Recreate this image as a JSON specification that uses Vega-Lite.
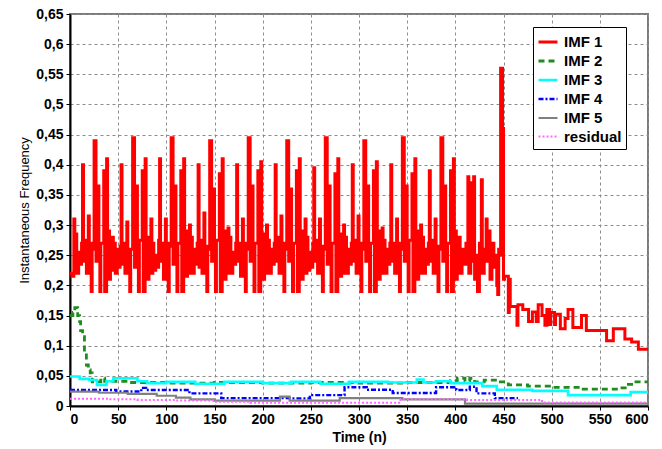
{
"$schema": "https://vega.github.io/schema/vega-lite/v6.json",
"width": 578, "height": 392,
"autosize": {"type": "none"},
"padding": {"left": 70, "top": 14, "right": 14, "bottom": 43},
"background": "white",
"config": {
  "font": "Liberation Sans",
  "view": {"stroke": "#7a7a7a", "strokeWidth": 2},
  "axis": {"labelFont": "Liberation Sans", "labelFontWeight": "bold", "labelFontSize": 14, "labelColor": "#000", "domainColor": "#000", "domainWidth": 2, "tickColor": "#000", "tickSize": 4, "gridColor": "#8c8c8c", "gridDash": [3, 3], "gridWidth": 1, "titleColor": "#000", "titleFont": "Liberation Sans"}
},
"data": {"values": [
{"s":"IMF 1","t":0,"v":0.22},{"s":"IMF 1","t":2,"v":0.215},{"s":"IMF 1","t":4,"v":0.31},{"s":"IMF 1","t":5,"v":0.22},{"s":"IMF 1","t":6,"v":0.285},{"s":"IMF 1","t":7,"v":0.22},{"s":"IMF 1","t":9,"v":0.255},{"s":"IMF 1","t":10,"v":0.235},{"s":"IMF 1","t":12,"v":0.27},{"s":"IMF 1","t":13,"v":0.40},{"s":"IMF 1","t":14,"v":0.24},{"s":"IMF 1","t":16,"v":0.275},{"s":"IMF 1","t":17,"v":0.22},{"s":"IMF 1","t":19,"v":0.315},{"s":"IMF 1","t":20,"v":0.27},{"s":"IMF 1","t":22,"v":0.19},{"s":"IMF 1","t":23,"v":0.26},{"s":"IMF 1","t":25,"v":0.44},{"s":"IMF 1","t":27,"v":0.24},{"s":"IMF 1","t":29,"v":0.365},{"s":"IMF 1","t":30,"v":0.25},{"s":"IMF 1","t":31,"v":0.19},{"s":"IMF 1","t":32,"v":0.27},{"s":"IMF 1","t":35,"v":0.39},{"s":"IMF 1","t":36,"v":0.19},{"s":"IMF 1","t":38,"v":0.41},{"s":"IMF 1","t":39,"v":0.24},
{"s":"IMF 1","t":40,"v":0.29},{"s":"IMF 1","t":41,"v":0.21},{"s":"IMF 1","t":42,"v":0.23},{"s":"IMF 1","t":44,"v":0.28},{"s":"IMF 1","t":45,"v":0.225},{"s":"IMF 1","t":46,"v":0.27},{"s":"IMF 1","t":47,"v":0.22},{"s":"IMF 1","t":49,"v":0.26},{"s":"IMF 1","t":50,"v":0.23},{"s":"IMF 1","t":52,"v":0.265},{"s":"IMF 1","t":53,"v":0.40},{"s":"IMF 1","t":54,"v":0.235},{"s":"IMF 1","t":56,"v":0.27},{"s":"IMF 1","t":57,"v":0.22},{"s":"IMF 1","t":59,"v":0.305},{"s":"IMF 1","t":60,"v":0.26},{"s":"IMF 1","t":62,"v":0.19},{"s":"IMF 1","t":63,"v":0.26},{"s":"IMF 1","t":65,"v":0.445},{"s":"IMF 1","t":67,"v":0.23},{"s":"IMF 1","t":69,"v":0.365},{"s":"IMF 1","t":70,"v":0.24},{"s":"IMF 1","t":71,"v":0.19},{"s":"IMF 1","t":72,"v":0.275},{"s":"IMF 1","t":75,"v":0.39},{"s":"IMF 1","t":76,"v":0.19},{"s":"IMF 1","t":78,"v":0.41},{"s":"IMF 1","t":79,"v":0.235},
{"s":"IMF 1","t":80,"v":0.28},{"s":"IMF 1","t":81,"v":0.21},{"s":"IMF 1","t":82,"v":0.23},{"s":"IMF 1","t":84,"v":0.31},{"s":"IMF 1","t":85,"v":0.22},{"s":"IMF 1","t":86,"v":0.27},{"s":"IMF 1","t":87,"v":0.225},{"s":"IMF 1","t":89,"v":0.25},{"s":"IMF 1","t":90,"v":0.23},{"s":"IMF 1","t":92,"v":0.275},{"s":"IMF 1","t":93,"v":0.41},{"s":"IMF 1","t":94,"v":0.24},{"s":"IMF 1","t":96,"v":0.27},{"s":"IMF 1","t":97,"v":0.21},{"s":"IMF 1","t":99,"v":0.31},{"s":"IMF 1","t":100,"v":0.27},{"s":"IMF 1","t":102,"v":0.19},{"s":"IMF 1","t":103,"v":0.265},{"s":"IMF 1","t":105,"v":0.445},{"s":"IMF 1","t":107,"v":0.235},{"s":"IMF 1","t":109,"v":0.365},{"s":"IMF 1","t":110,"v":0.25},{"s":"IMF 1","t":111,"v":0.19},{"s":"IMF 1","t":112,"v":0.27},{"s":"IMF 1","t":115,"v":0.39},{"s":"IMF 1","t":116,"v":0.19},{"s":"IMF 1","t":118,"v":0.41},{"s":"IMF 1","t":119,"v":0.245},
{"s":"IMF 1","t":120,"v":0.29},{"s":"IMF 1","t":121,"v":0.215},{"s":"IMF 1","t":122,"v":0.225},{"s":"IMF 1","t":124,"v":0.30},{"s":"IMF 1","t":125,"v":0.22},{"s":"IMF 1","t":126,"v":0.28},{"s":"IMF 1","t":127,"v":0.22},{"s":"IMF 1","t":129,"v":0.26},{"s":"IMF 1","t":130,"v":0.235},{"s":"IMF 1","t":132,"v":0.27},{"s":"IMF 1","t":133,"v":0.40},{"s":"IMF 1","t":134,"v":0.23},{"s":"IMF 1","t":136,"v":0.275},{"s":"IMF 1","t":137,"v":0.22},{"s":"IMF 1","t":139,"v":0.32},{"s":"IMF 1","t":140,"v":0.265},{"s":"IMF 1","t":142,"v":0.19},{"s":"IMF 1","t":143,"v":0.26},{"s":"IMF 1","t":145,"v":0.44},{"s":"IMF 1","t":147,"v":0.24},{"s":"IMF 1","t":149,"v":0.36},{"s":"IMF 1","t":150,"v":0.245},{"s":"IMF 1","t":151,"v":0.19},{"s":"IMF 1","t":152,"v":0.275},{"s":"IMF 1","t":155,"v":0.385},{"s":"IMF 1","t":156,"v":0.19},{"s":"IMF 1","t":158,"v":0.41},{"s":"IMF 1","t":159,"v":0.24},
{"s":"IMF 1","t":160,"v":0.29},{"s":"IMF 1","t":161,"v":0.21},{"s":"IMF 1","t":162,"v":0.225},{"s":"IMF 1","t":164,"v":0.295},{"s":"IMF 1","t":165,"v":0.22},{"s":"IMF 1","t":166,"v":0.28},{"s":"IMF 1","t":167,"v":0.22},{"s":"IMF 1","t":169,"v":0.255},{"s":"IMF 1","t":170,"v":0.235},{"s":"IMF 1","t":172,"v":0.27},{"s":"IMF 1","t":173,"v":0.40},{"s":"IMF 1","t":174,"v":0.24},{"s":"IMF 1","t":176,"v":0.27},{"s":"IMF 1","t":177,"v":0.215},{"s":"IMF 1","t":179,"v":0.31},{"s":"IMF 1","t":180,"v":0.27},{"s":"IMF 1","t":182,"v":0.19},{"s":"IMF 1","t":183,"v":0.26},{"s":"IMF 1","t":185,"v":0.445},{"s":"IMF 1","t":187,"v":0.24},{"s":"IMF 1","t":189,"v":0.365},{"s":"IMF 1","t":190,"v":0.25},{"s":"IMF 1","t":191,"v":0.19},{"s":"IMF 1","t":192,"v":0.27},{"s":"IMF 1","t":195,"v":0.39},{"s":"IMF 1","t":196,"v":0.19},{"s":"IMF 1","t":198,"v":0.405},{"s":"IMF 1","t":199,"v":0.24},
{"s":"IMF 1","t":200,"v":0.285},{"s":"IMF 1","t":201,"v":0.21},{"s":"IMF 1","t":202,"v":0.23},{"s":"IMF 1","t":204,"v":0.30},{"s":"IMF 1","t":205,"v":0.22},{"s":"IMF 1","t":206,"v":0.275},{"s":"IMF 1","t":207,"v":0.22},{"s":"IMF 1","t":209,"v":0.26},{"s":"IMF 1","t":210,"v":0.235},{"s":"IMF 1","t":212,"v":0.27},{"s":"IMF 1","t":213,"v":0.40},{"s":"IMF 1","t":214,"v":0.24},{"s":"IMF 1","t":216,"v":0.28},{"s":"IMF 1","t":217,"v":0.22},{"s":"IMF 1","t":219,"v":0.315},{"s":"IMF 1","t":220,"v":0.27},{"s":"IMF 1","t":222,"v":0.19},{"s":"IMF 1","t":223,"v":0.26},{"s":"IMF 1","t":225,"v":0.44},{"s":"IMF 1","t":227,"v":0.24},{"s":"IMF 1","t":229,"v":0.36},{"s":"IMF 1","t":230,"v":0.25},{"s":"IMF 1","t":231,"v":0.19},{"s":"IMF 1","t":232,"v":0.27},{"s":"IMF 1","t":235,"v":0.39},{"s":"IMF 1","t":236,"v":0.19},{"s":"IMF 1","t":238,"v":0.41},{"s":"IMF 1","t":239,"v":0.24},
{"s":"IMF 1","t":240,"v":0.29},{"s":"IMF 1","t":241,"v":0.21},{"s":"IMF 1","t":242,"v":0.225},{"s":"IMF 1","t":244,"v":0.31},{"s":"IMF 1","t":245,"v":0.22},{"s":"IMF 1","t":246,"v":0.28},{"s":"IMF 1","t":247,"v":0.225},{"s":"IMF 1","t":249,"v":0.255},{"s":"IMF 1","t":250,"v":0.23},{"s":"IMF 1","t":252,"v":0.27},{"s":"IMF 1","t":253,"v":0.395},{"s":"IMF 1","t":254,"v":0.24},{"s":"IMF 1","t":256,"v":0.275},{"s":"IMF 1","t":257,"v":0.22},{"s":"IMF 1","t":259,"v":0.31},{"s":"IMF 1","t":260,"v":0.265},{"s":"IMF 1","t":262,"v":0.19},{"s":"IMF 1","t":263,"v":0.26},{"s":"IMF 1","t":265,"v":0.445},{"s":"IMF 1","t":267,"v":0.235},{"s":"IMF 1","t":269,"v":0.365},{"s":"IMF 1","t":270,"v":0.25},{"s":"IMF 1","t":271,"v":0.19},{"s":"IMF 1","t":272,"v":0.27},{"s":"IMF 1","t":275,"v":0.385},{"s":"IMF 1","t":276,"v":0.19},{"s":"IMF 1","t":278,"v":0.41},{"s":"IMF 1","t":279,"v":0.24},
{"s":"IMF 1","t":280,"v":0.285},{"s":"IMF 1","t":281,"v":0.215},{"s":"IMF 1","t":282,"v":0.23},{"s":"IMF 1","t":284,"v":0.30},{"s":"IMF 1","t":285,"v":0.22},{"s":"IMF 1","t":286,"v":0.28},{"s":"IMF 1","t":287,"v":0.22},{"s":"IMF 1","t":289,"v":0.26},{"s":"IMF 1","t":290,"v":0.235},{"s":"IMF 1","t":292,"v":0.27},{"s":"IMF 1","t":293,"v":0.40},{"s":"IMF 1","t":294,"v":0.24},{"s":"IMF 1","t":296,"v":0.275},{"s":"IMF 1","t":297,"v":0.22},{"s":"IMF 1","t":299,"v":0.315},{"s":"IMF 1","t":300,"v":0.27},{"s":"IMF 1","t":302,"v":0.19},{"s":"IMF 1","t":303,"v":0.26},{"s":"IMF 1","t":305,"v":0.44},{"s":"IMF 1","t":307,"v":0.24},{"s":"IMF 1","t":309,"v":0.365},{"s":"IMF 1","t":310,"v":0.25},{"s":"IMF 1","t":311,"v":0.19},{"s":"IMF 1","t":312,"v":0.27},{"s":"IMF 1","t":315,"v":0.39},{"s":"IMF 1","t":316,"v":0.19},{"s":"IMF 1","t":318,"v":0.405},{"s":"IMF 1","t":319,"v":0.24},
{"s":"IMF 1","t":320,"v":0.29},{"s":"IMF 1","t":321,"v":0.21},{"s":"IMF 1","t":322,"v":0.23},{"s":"IMF 1","t":324,"v":0.295},{"s":"IMF 1","t":325,"v":0.22},{"s":"IMF 1","t":326,"v":0.275},{"s":"IMF 1","t":327,"v":0.22},{"s":"IMF 1","t":329,"v":0.26},{"s":"IMF 1","t":330,"v":0.235},{"s":"IMF 1","t":332,"v":0.27},{"s":"IMF 1","t":333,"v":0.40},{"s":"IMF 1","t":334,"v":0.24},{"s":"IMF 1","t":336,"v":0.27},{"s":"IMF 1","t":337,"v":0.22},{"s":"IMF 1","t":339,"v":0.31},{"s":"IMF 1","t":340,"v":0.27},{"s":"IMF 1","t":342,"v":0.19},{"s":"IMF 1","t":343,"v":0.26},{"s":"IMF 1","t":345,"v":0.445},{"s":"IMF 1","t":347,"v":0.24},{"s":"IMF 1","t":349,"v":0.365},{"s":"IMF 1","t":350,"v":0.25},{"s":"IMF 1","t":351,"v":0.19},{"s":"IMF 1","t":352,"v":0.275},{"s":"IMF 1","t":355,"v":0.385},{"s":"IMF 1","t":356,"v":0.19},{"s":"IMF 1","t":358,"v":0.41},{"s":"IMF 1","t":359,"v":0.24},
{"s":"IMF 1","t":360,"v":0.29},{"s":"IMF 1","t":361,"v":0.21},{"s":"IMF 1","t":362,"v":0.225},{"s":"IMF 1","t":364,"v":0.30},{"s":"IMF 1","t":365,"v":0.22},{"s":"IMF 1","t":366,"v":0.28},{"s":"IMF 1","t":367,"v":0.22},{"s":"IMF 1","t":369,"v":0.26},{"s":"IMF 1","t":370,"v":0.235},{"s":"IMF 1","t":372,"v":0.27},{"s":"IMF 1","t":373,"v":0.39},{"s":"IMF 1","t":374,"v":0.24},{"s":"IMF 1","t":376,"v":0.275},{"s":"IMF 1","t":377,"v":0.22},{"s":"IMF 1","t":379,"v":0.31},{"s":"IMF 1","t":380,"v":0.265},{"s":"IMF 1","t":382,"v":0.19},{"s":"IMF 1","t":383,"v":0.26},{"s":"IMF 1","t":385,"v":0.445},{"s":"IMF 1","t":387,"v":0.24},{"s":"IMF 1","t":389,"v":0.365},{"s":"IMF 1","t":390,"v":0.25},{"s":"IMF 1","t":391,"v":0.19},{"s":"IMF 1","t":392,"v":0.27},{"s":"IMF 1","t":395,"v":0.39},{"s":"IMF 1","t":396,"v":0.19},{"s":"IMF 1","t":398,"v":0.41},{"s":"IMF 1","t":399,"v":0.24},
{"s":"IMF 1","t":400,"v":0.29},{"s":"IMF 1","t":401,"v":0.21},{"s":"IMF 1","t":402,"v":0.23},{"s":"IMF 1","t":404,"v":0.28},{"s":"IMF 1","t":405,"v":0.22},{"s":"IMF 1","t":407,"v":0.26},{"s":"IMF 1","t":409,"v":0.235},{"s":"IMF 1","t":411,"v":0.27},{"s":"IMF 1","t":413,"v":0.38},{"s":"IMF 1","t":414,"v":0.22},{"s":"IMF 1","t":416,"v":0.37},{"s":"IMF 1","t":417,"v":0.24},{"s":"IMF 1","t":419,"v":0.38},{"s":"IMF 1","t":420,"v":0.21},{"s":"IMF 1","t":422,"v":0.25},{"s":"IMF 1","t":423,"v":0.19},{"s":"IMF 1","t":425,"v":0.27},{"s":"IMF 1","t":427,"v":0.375},{"s":"IMF 1","t":428,"v":0.22},{"s":"IMF 1","t":430,"v":0.26},{"s":"IMF 1","t":432,"v":0.31},{"s":"IMF 1","t":433,"v":0.24},{"s":"IMF 1","t":434,"v":0.29},{"s":"IMF 1","t":436,"v":0.21},{"s":"IMF 1","t":438,"v":0.27},{"s":"IMF 1","t":440,"v":0.23},{"s":"IMF 1","t":442,"v":0.25},{"s":"IMF 1","t":443,"v":0.20},{"s":"IMF 1","t":444,"v":0.185},{"s":"IMF 1","t":445,"v":0.26},{"s":"IMF 1","t":446,"v":0.25},{"s":"IMF 1","t":447,"v":0.56},{"s":"IMF 1","t":449,"v":0.46},{"s":"IMF 1","t":450,"v":0.21},{"s":"IMF 1","t":451,"v":0.215},{"s":"IMF 1","t":455,"v":0.155},{"s":"IMF 1","t":456,"v":0.21},{"s":"IMF 1","t":457,"v":0.165},{"s":"IMF 1","t":464,"v":0.134},{"s":"IMF 1","t":465,"v":0.168},{"s":"IMF 1","t":470,"v":0.16},{"s":"IMF 1","t":476,"v":0.14},{"s":"IMF 1","t":480,"v":0.156},{"s":"IMF 1","t":484,"v":0.14},{"s":"IMF 1","t":486,"v":0.168},{"s":"IMF 1","t":490,"v":0.15},{"s":"IMF 1","t":493,"v":0.134},{"s":"IMF 1","t":495,"v":0.16},{"s":"IMF 1","t":498,"v":0.135},{"s":"IMF 1","t":499,"v":0.155},{"s":"IMF 1","t":503,"v":0.135},{"s":"IMF 1","t":504,"v":0.152},{"s":"IMF 1","t":509,"v":0.128},{"s":"IMF 1","t":514,"v":0.145},{"s":"IMF 1","t":517,"v":0.16},{"s":"IMF 1","t":522,"v":0.13},{"s":"IMF 1","t":531,"v":0.15},{"s":"IMF 1","t":536,"v":0.125},{"s":"IMF 1","t":557,"v":0.108},{"s":"IMF 1","t":564,"v":0.128},{"s":"IMF 1","t":576,"v":0.111},{"s":"IMF 1","t":583,"v":0.106},{"s":"IMF 1","t":590,"v":0.094},{"s":"IMF 1","t":600,"v":0.094},
{"s":"IMF 2","t":0,"v":0.15},{"s":"IMF 2","t":3,"v":0.155},{"s":"IMF 2","t":5,"v":0.163},{"s":"IMF 2","t":8,"v":0.15},{"s":"IMF 2","t":10,"v":0.14},{"s":"IMF 2","t":11,"v":0.125},{"s":"IMF 2","t":13,"v":0.115},{"s":"IMF 2","t":15,"v":0.09},{"s":"IMF 2","t":17,"v":0.068},{"s":"IMF 2","t":19,"v":0.06},{"s":"IMF 2","t":21,"v":0.055},{"s":"IMF 2","t":23,"v":0.04},{"s":"IMF 2","t":32,"v":0.046},{"s":"IMF 2","t":36,"v":0.041},{"s":"IMF 2","t":60,"v":0.039},{"s":"IMF 2","t":100,"v":0.038},{"s":"IMF 2","t":150,"v":0.039},{"s":"IMF 2","t":200,"v":0.038},{"s":"IMF 2","t":250,"v":0.039},{"s":"IMF 2","t":300,"v":0.038},{"s":"IMF 2","t":350,"v":0.039},{"s":"IMF 2","t":395,"v":0.042},{"s":"IMF 2","t":402,"v":0.046},{"s":"IMF 2","t":410,"v":0.041},{"s":"IMF 2","t":415,"v":0.046},{"s":"IMF 2","t":420,"v":0.04},{"s":"IMF 2","t":430,"v":0.043},{"s":"IMF 2","t":445,"v":0.04},{"s":"IMF 2","t":455,"v":0.035},{"s":"IMF 2","t":475,"v":0.033},{"s":"IMF 2","t":500,"v":0.031},{"s":"IMF 2","t":530,"v":0.028},{"s":"IMF 2","t":570,"v":0.03},{"s":"IMF 2","t":578,"v":0.036},{"s":"IMF 2","t":585,"v":0.04},{"s":"IMF 2","t":600,"v":0.04},
{"s":"IMF 3","t":0,"v":0.049},{"s":"IMF 3","t":10,"v":0.045},{"s":"IMF 3","t":20,"v":0.043},{"s":"IMF 3","t":28,"v":0.035},{"s":"IMF 3","t":38,"v":0.041},{"s":"IMF 3","t":45,"v":0.046},{"s":"IMF 3","t":70,"v":0.041},{"s":"IMF 3","t":80,"v":0.038},{"s":"IMF 3","t":100,"v":0.04},{"s":"IMF 3","t":130,"v":0.037},{"s":"IMF 3","t":160,"v":0.04},{"s":"IMF 3","t":200,"v":0.038},{"s":"IMF 3","t":230,"v":0.04},{"s":"IMF 3","t":260,"v":0.037},{"s":"IMF 3","t":290,"v":0.04},{"s":"IMF 3","t":330,"v":0.039},{"s":"IMF 3","t":360,"v":0.044},{"s":"IMF 3","t":367,"v":0.039},{"s":"IMF 3","t":380,"v":0.041},{"s":"IMF 3","t":395,"v":0.038},{"s":"IMF 3","t":428,"v":0.033},{"s":"IMF 3","t":443,"v":0.027},{"s":"IMF 3","t":480,"v":0.025},{"s":"IMF 3","t":517,"v":0.018},{"s":"IMF 3","t":582,"v":0.023},{"s":"IMF 3","t":600,"v":0.023},
{"s":"IMF 4","t":0,"v":0.0265},{"s":"IMF 4","t":48,"v":0.024},{"s":"IMF 4","t":74,"v":0.03},{"s":"IMF 4","t":79,"v":0.0265},{"s":"IMF 4","t":124,"v":0.021},{"s":"IMF 4","t":157,"v":0.013},{"s":"IMF 4","t":228,"v":0.0127},{"s":"IMF 4","t":249,"v":0.018},{"s":"IMF 4","t":285,"v":0.031},{"s":"IMF 4","t":308,"v":0.027},{"s":"IMF 4","t":335,"v":0.0216},{"s":"IMF 4","t":380,"v":0.031},{"s":"IMF 4","t":401,"v":0.0265},{"s":"IMF 4","t":415,"v":0.032},{"s":"IMF 4","t":422,"v":0.021},{"s":"IMF 4","t":441,"v":0.013},{"s":"IMF 4","t":465,"v":0.013},
{"s":"IMF 5","t":0,"v":0.024},{"s":"IMF 5","t":30,"v":0.022},{"s":"IMF 5","t":60,"v":0.02},{"s":"IMF 5","t":90,"v":0.017},{"s":"IMF 5","t":110,"v":0.014},{"s":"IMF 5","t":125,"v":0.011},{"s":"IMF 5","t":150,"v":0.009},{"s":"IMF 5","t":218,"v":0.0155},{"s":"IMF 5","t":228,"v":0.009},{"s":"IMF 5","t":280,"v":0.013},{"s":"IMF 5","t":345,"v":0.011},{"s":"IMF 5","t":410,"v":0.004},{"s":"IMF 5","t":600,"v":0.004},
{"s":"residual","t":0,"v":0.012},{"s":"residual","t":40,"v":0.011},{"s":"residual","t":70,"v":0.01},{"s":"residual","t":110,"v":0.009},{"s":"residual","t":150,"v":0.007},{"s":"residual","t":187,"v":0.0055},{"s":"residual","t":343,"v":0.011},{"s":"residual","t":412,"v":0.01},{"s":"residual","t":490,"v":0.006},{"s":"residual","t":600,"v":0.006}
]},
"mark": {"type": "line", "interpolate": "step-after"},
"encoding": {
  "x": {"field": "t", "type": "quantitative", "scale": {"domain": [0, 600], "nice": false},
        "axis": {"values": [0,50,100,150,200,250,300,350,400,450,500,550,600], "title": "Time (n)", "titleFontWeight": "bold", "titleFontSize": 14, "titlePadding": 4, "labelPadding": 2}},
  "y": {"field": "v", "type": "quantitative", "scale": {"domain": [0, 0.65], "nice": false},
        "axis": {"values": [0,0.05,0.1,0.15,0.2,0.25,0.3,0.35,0.4,0.45,0.5,0.55,0.6,0.65], "labelExpr": "replace(format(datum.value, '.2~f'), '.', ',')", "title": "Instantaneous Frequency", "titleFontWeight": "normal", "titleFontSize": 13, "titlePadding": 4, "labelPadding": 3}},
  "color": {"field": "s", "type": "nominal", "scale": {"domain": ["IMF 1","IMF 2","IMF 3","IMF 4","IMF 5","residual"], "range": ["#ff0000","#1e8c1e","#00ffff","#0000ff","#808080","#ff66ff"]},
        "legend": {"title": null, "orient": "none", "legendX": 463, "legendY": 13, "symbolType": "stroke", "symbolSize": 361, "labelFontSize": 15, "labelFontWeight": "bold", "labelFont": "Liberation Sans", "labelColor": "#000", "strokeColor": "#000", "fillColor": "#fff", "padding": 4, "rowPadding": -3, "labelOffset": 5}},
  "strokeDash": {"field": "s", "type": "nominal", "scale": {"domain": ["IMF 1","IMF 2","IMF 3","IMF 4","IMF 5","residual"], "range": [[1,0],[6,4],[1,0],[5,2,2,2],[1,0],[2,2]]},
        "legend": {"title": null, "orient": "none", "legendX": 463, "legendY": 13, "symbolType": "stroke", "symbolSize": 361, "labelFontSize": 15, "labelFontWeight": "bold", "labelFont": "Liberation Sans", "labelColor": "#000", "strokeColor": "#000", "fillColor": "#fff", "padding": 4, "rowPadding": -3, "labelOffset": 5}},
  "strokeWidth": {"field": "s", "type": "nominal", "scale": {"domain": ["IMF 1","IMF 2","IMF 3","IMF 4","IMF 5","residual"], "range": [3,2,2,2,1.5,1.8]},
        "legend": {"title": null, "orient": "none", "legendX": 463, "legendY": 13, "symbolType": "stroke", "symbolSize": 361, "labelFontSize": 15, "labelFontWeight": "bold", "labelFont": "Liberation Sans", "labelColor": "#000", "strokeColor": "#000", "fillColor": "#fff", "padding": 4, "rowPadding": -3, "labelOffset": 5}}
}
}
